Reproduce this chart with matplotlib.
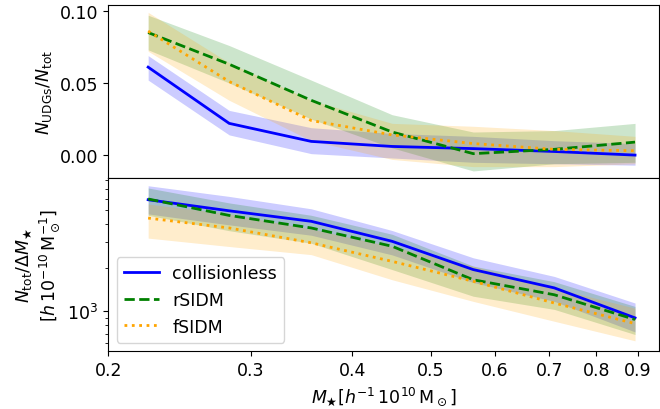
import numpy as np
import matplotlib.pyplot as plt
from matplotlib.ticker import NullLocator

# stellar mass bin centres
mstar = [0.224, 0.282, 0.356, 0.448, 0.564, 0.710, 0.893]

# UDG fraction (top panel)
frac_cdm = [0.061, 0.022, 0.0095, 0.006, 0.0045, 0.0025, 0.0]
frac_cdm_lo = [0.052, 0.014, 0.001, -0.002, -0.005, -0.006, -0.007]
frac_cdm_hi = [0.069, 0.031, 0.019, 0.015, 0.013, 0.010, 0.008]
frac_r = [0.085, 0.063, 0.038, 0.016, 0.001, 0.004, 0.009]
frac_r_lo = [0.073, 0.050, 0.025, 0.005, -0.011, -0.006, -0.005]
frac_r_hi = [0.097, 0.076, 0.052, 0.028, 0.016, 0.017, 0.022]
frac_f = [0.086, 0.051, 0.024, 0.014, 0.008, 0.004, 0.003]
frac_f_lo = [0.072, 0.038, 0.010, -0.003, -0.008, -0.008, -0.006]
frac_f_hi = [0.099, 0.064, 0.038, 0.022, 0.020, 0.017, 0.013]

# mass function (bottom panel)
n_cdm = [5890, 4940, 4180, 3040, 1940, 1450, 900]
n_cdm_lo = [4700, 3950, 3350, 2450, 1580, 1170, 720]
n_cdm_hi = [7360, 6210, 5100, 3610, 2340, 1740, 1140]
n_r = [5960, 4590, 3760, 2810, 1650, 1300, 877]
n_r_lo = [4600, 3600, 2950, 1940, 1270, 1030, 691]
n_r_hi = [7100, 5600, 4600, 3400, 2050, 1600, 1080]
n_f = [4400, 3760, 2970, 2210, 1610, 1140, 822]
n_f_lo = [3200, 2800, 2460, 1650, 1170, 853, 625]
n_f_hi = [5500, 4700, 3700, 2800, 2050, 1450, 1050]

xticks = [0.2, 0.3, 0.4, 0.5, 0.6, 0.7, 0.8, 0.9]

plt.rcParams['font.size'] = 12.5

fig, (ax1, ax2) = plt.subplots(2, 1, figsize=(6.6, 4.1), dpi=100, sharex=True)
fig.subplots_adjust(left=0.164, right=0.998, top=0.985, bottom=0.141, hspace=0)

models = [
    ('collisionless', 'blue', '-', frac_cdm, frac_cdm_lo, frac_cdm_hi, n_cdm, n_cdm_lo, n_cdm_hi),
    ('rSIDM', 'green', '--', frac_r, frac_r_lo, frac_r_hi, n_r, n_r_lo, n_r_hi),
    ('fSIDM', 'orange', ':', frac_f, frac_f_lo, frac_f_hi, n_f, n_f_lo, n_f_hi),
]

for name, col, ls, f, flo, fhi, n, nlo, nhi in models:
    ax1.fill_between(mstar, flo, fhi, color=col, alpha=0.2, lw=0)
    ax1.plot(mstar, f, color=col, ls=ls, lw=2)
    ax2.fill_between(mstar, nlo, nhi, color=col, alpha=0.2, lw=0)
    ax2.plot(mstar, n, color=col, ls=ls, lw=2, label=name)

ax1.set_xscale('log')
ax1.set_xlim(0.2, 0.955)
ax1.set_ylim(-0.016, 0.104)
ax1.set_yticks([0.0, 0.05, 0.10])
ax1.tick_params(axis='x', which='both', bottom=False)
ax1.set_ylabel(r'$N_{\rm UDGs}/N_{\rm tot}$')

ax2.set_yscale('log')
ax2.set_ylim(530, 8300)
ax2.set_xticks(xticks)
ax2.set_xticklabels([str(t) for t in xticks])
ax2.xaxis.set_minor_locator(NullLocator())
ax2.set_ylabel('$N_{\\rm tot}/\\Delta M_\\bigstar$\n$[h\\,10^{-10}\\,{\\rm M}_\\odot^{-1}]$')
ax2.set_xlabel(r'$M_\bigstar[h^{-1}\,10^{10}\,{\rm M}_\odot]$')
ax2.legend(loc='lower left')

fig.savefig('out.png')
